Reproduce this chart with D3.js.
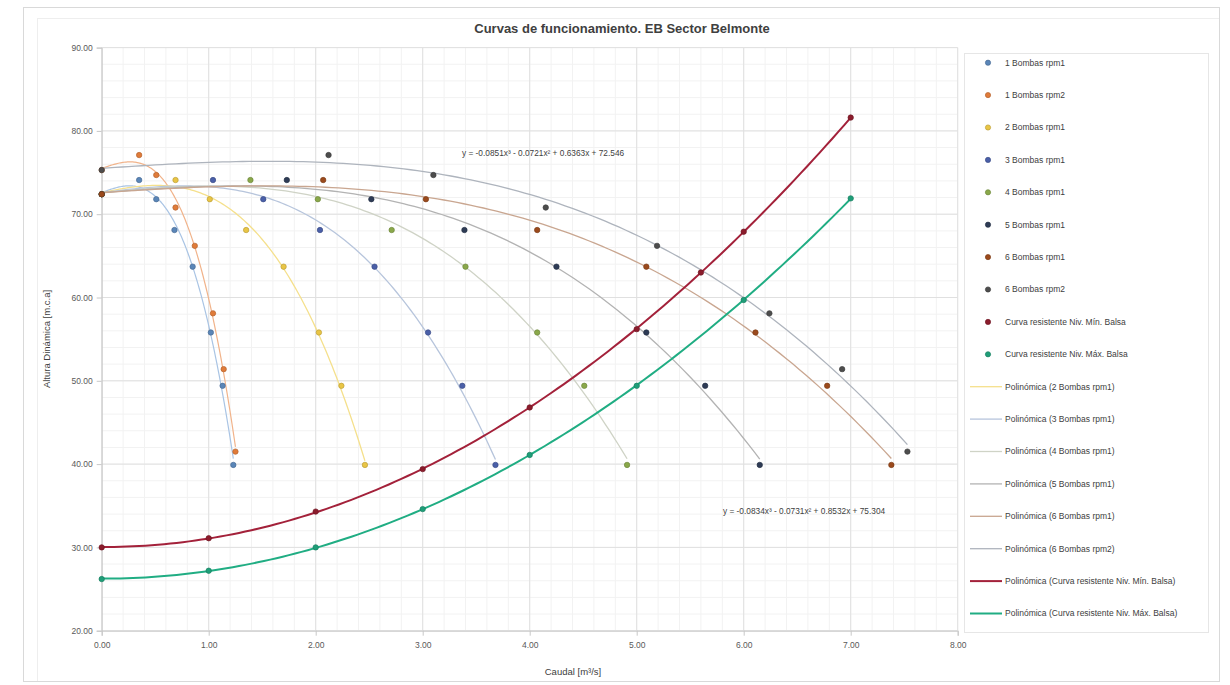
<!DOCTYPE html>
<html><head><meta charset="utf-8">
<script src="https://cdn.jsdelivr.net/npm/d3@7"></script>
<style>
body{margin:0;background:#fff;}
svg{display:block;font-family:"Liberation Sans",Arial,sans-serif;}
</style>
</head><body>
<svg id="c" width="1230" height="685"></svg>
<script>
// ---------- data ----------
const chartTitle = "Curvas de funcionamiento. EB Sector Belmonte";
const xLabel = "Caudal [m³/s]";
const yLabel = "Altura Dinámica [m.c.a]";
const xTicks = [0,1,2,3,4,5,6,7,8];
const yTicks = [20,30,40,50,60,70,80,90];
const eqUpper = "y = -0.0851x³ - 0.0721x² + 0.6363x + 72.546";
const eqLower = "y = -0.0834x³ - 0.0731x² + 0.8532x + 75.304";

const rpm1Heads = [72.4, 74.1, 71.8, 68.1, 63.7, 55.8, 49.4, 39.9];
const q1rpm1 = [0, 0.35, 0.51, 0.68, 0.85, 1.02, 1.13, 1.23];
const q2rpm1 = [0, 0.69, 1.01, 1.35, 1.70, 2.03, 2.24, 2.46];
const q3rpm1 = [0, 1.04, 1.51, 2.04, 2.55, 3.05, 3.37, 3.68];
const q4rpm1 = [0, 1.39, 2.02, 2.71, 3.40, 4.07, 4.51, 4.91];
const q5rpm1 = [0, 1.73, 2.52, 3.39, 4.25, 5.09, 5.64, 6.15];
const q6rpm1 = [0, 2.07, 3.03, 4.07, 5.09, 6.11, 6.78, 7.38];

const rpm2Heads = [75.3, 77.1, 74.7, 70.8, 66.2, 58.1, 51.4, 41.5];
const q1rpm2 = [0, 0.35, 0.51, 0.69, 0.87, 1.04, 1.14, 1.25];
const q6rpm2 = [0, 2.12, 3.10, 4.15, 5.19, 6.24, 6.92, 7.53];

const qMin = [0, 1, 2, 3, 4, 5, 5.6, 6, 7];
const hMin = [30.0, 31.1, 34.3, 39.4, 46.8, 56.2, 63.0, 67.9, 81.6];
const qMax = [0, 1, 2, 3, 4, 5, 6, 7];
const hMax = [26.2, 27.2, 30.0, 34.6, 41.1, 49.4, 59.7, 71.9];

const seriesNames = ["1 Bombas rpm1","1 Bombas rpm2","2 Bombas rpm1","3 Bombas rpm1","4 Bombas rpm1",
  "5 Bombas rpm1","6 Bombas rpm1","6 Bombas rpm2","Curva resistente Niv. Mín. Balsa","Curva resistente Niv. Máx. Balsa"];
const trendNames = ["Polinómica (2 Bombas rpm1)","Polinómica (3 Bombas rpm1)","Polinómica (4 Bombas rpm1)",
  "Polinómica (5 Bombas rpm1)","Polinómica (6 Bombas rpm1)","Polinómica (6 Bombas rpm2)",
  "Polinómica (Curva resistente Niv. Mín. Balsa)","Polinómica (Curva resistente Niv. Máx. Balsa)"];

// ---------- styles ----------
const markerColors = ["#5a86b8","#e07b39","#e9c545","#4a5fa8","#8aa84a","#2e3b55","#9b4a1c","#4d4d4d","#8b1c2c","#1f9e78"];
const lineColors  = ["#a9c4e4","#f1b38a","#f5e08c","#b7c5dc","#cfd3c6","#b3b3b3","#c9a690","#aeb4bd","#a3213a","#20ad83"];
const lineWidths  = [1.2,1.2,1.3,1.3,1.3,1.3,1.3,1.3,2,2];
const fitDegree   = [3,3,3,3,3,3,3,3,2,2];

const series = [
  {x:q1rpm1, y:rpm1Heads}, {x:q1rpm2, y:rpm2Heads}, {x:q2rpm1, y:rpm1Heads},
  {x:q3rpm1, y:rpm1Heads}, {x:q4rpm1, y:rpm1Heads}, {x:q5rpm1, y:rpm1Heads},
  {x:q6rpm1, y:rpm1Heads}, {x:q6rpm2, y:rpm2Heads}, {x:qMin, y:hMin}, {x:qMax, y:hMax}
].map((s,i)=>({name:seriesNames[i], pts:s.x.map((v,j)=>[v,s.y[j]]), mc:markerColors[i], lc:lineColors[i], lw:lineWidths[i], deg:fitDegree[i]}));

// ---------- helpers ----------
function polyfit(pts, deg){
  const n = deg+1;
  const A = Array.from({length:n},()=>new Array(n).fill(0));
  const b = new Array(n).fill(0);
  pts.forEach(([x,y])=>{
    for(let r=0;r<n;r++){
      for(let c=0;c<n;c++) A[r][c]+=Math.pow(x,r+c);
      b[r]+=y*Math.pow(x,r);
    }
  });
  for(let i=0;i<n;i++){
    let p=i; for(let k=i+1;k<n;k++) if(Math.abs(A[k][i])>Math.abs(A[p][i])) p=k;
    [A[i],A[p]]=[A[p],A[i]]; [b[i],b[p]]=[b[p],b[i]];
    for(let k=i+1;k<n;k++){ const f=A[k][i]/A[i][i]; for(let c=i;c<n;c++) A[k][c]-=f*A[i][c]; b[k]-=f*b[i]; }
  }
  const coef=new Array(n).fill(0);
  for(let i=n-1;i>=0;i--){ let s=b[i]; for(let c=i+1;c<n;c++) s-=A[i][c]*coef[c]; coef[i]=s/A[i][i]; }
  return x=>coef.reduce((acc,c,k)=>acc+c*Math.pow(x,k),0);
}

// ---------- layout ----------
const svg = d3.select("#c");
const X0=101.7, X1=957.7, Y0=630.7, Y1=47.6;
const x = d3.scaleLinear().domain([0,8]).range([X0,X1]);
const y = d3.scaleLinear().domain([20,90]).range([Y0,Y1]);

// outer frames
svg.append("rect").attr("x",23.5).attr("y",7.5).attr("width",1196).attr("height",674)
  .attr("fill","#fff").attr("stroke","#d9d9d9");
svg.append("line").attr("x1",37.5).attr("x2",37.5).attr("y1",18).attr("y2",681).attr("stroke","#eeeeee");
svg.append("line").attr("x1",37.5).attr("x2",1219).attr("y1",18.5).attr("y2",18.5).attr("stroke","#eeeeee");

// minor grid
const g = svg.append("g");
g.selectAll(".vmin").data(x.ticks(40)).join("line")
  .attr("x1",d=>x(d)).attr("x2",d=>x(d)).attr("y1",Y0).attr("y2",Y1)
  .attr("stroke","#f2f2f2").attr("stroke-width",1);
g.selectAll(".hmin").data(y.ticks(35)).join("line")
  .attr("y1",d=>y(d)).attr("y2",d=>y(d)).attr("x1",X0).attr("x2",X1)
  .attr("stroke","#f2f2f2").attr("stroke-width",1);
// major grid
g.selectAll(".vmaj").data(xTicks).join("line")
  .attr("x1",d=>x(d)).attr("x2",d=>x(d)).attr("y1",Y0).attr("y2",Y1)
  .attr("stroke","#e0e0e0").attr("stroke-width",1);
g.selectAll(".hmaj").data(yTicks).join("line")
  .attr("y1",d=>y(d)).attr("y2",d=>y(d)).attr("x1",X0).attr("x2",X1)
  .attr("stroke","#e0e0e0").attr("stroke-width",1);

// axes
const fmt = d3.format(".2f");
const ax = svg.append("g").attr("transform",`translate(0,${Y0})`)
  .call(d3.axisBottom(x).tickValues(xTicks).tickFormat(fmt).tickSize(5).tickPadding(6));
const ay = svg.append("g").attr("transform",`translate(${X0},0)`)
  .call(d3.axisLeft(y).tickValues(yTicks).tickFormat(fmt).tickSize(5).tickPadding(4));
[ax,ay].forEach(a=>{
  a.select(".domain").attr("stroke","#c8c8c8");
  a.selectAll(".tick line").attr("stroke","#c8c8c8");
  a.selectAll(".tick text").attr("fill","#595959").attr("font-size",8.5).attr("font-family","Liberation Sans, Arial, sans-serif");
});

// trendlines
const lineGen = d3.line().x(d=>x(d[0])).y(d=>y(d[1]));
const plot = svg.append("g");
series.forEach(s=>{
  const f = polyfit(s.pts, s.deg);
  const xs = s.pts.map(p=>p[0]);
  const lo = d3.min(xs), hi = d3.max(xs);
  const samples = d3.range(0,121).map(i=>{const xv=lo+(hi-lo)*i/120; return [xv,f(xv)];});
  plot.append("path").attr("d",lineGen(samples)).attr("fill","none")
    .attr("stroke",s.lc).attr("stroke-width",s.lw);
});
// markers
series.forEach(s=>{
  plot.selectAll(null).data(s.pts).join("circle")
    .attr("cx",d=>x(d[0])).attr("cy",d=>y(d[1])).attr("r",2.7)
    .attr("fill",s.mc).attr("stroke",d3.color(s.mc).darker(0.6)).attr("stroke-width",0.7);
});

// equations
svg.append("text").attr("x",462).attr("y",156).attr("font-size",8.3).attr("fill","#404040").text(eqUpper);
svg.append("text").attr("x",723).attr("y",514).attr("font-size",8.3).attr("fill","#404040").text(eqLower);

// title & axis labels
svg.append("text").attr("x",622).attr("y",33).attr("text-anchor","middle")
  .attr("font-size",13).attr("font-weight","bold").attr("fill","#404040").text(chartTitle);
svg.append("text").attr("x",573).attr("y",675).attr("text-anchor","middle")
  .attr("font-size",9.5).attr("fill","#404040").text(xLabel);
svg.append("text").attr("transform","translate(50,339) rotate(-90)").attr("text-anchor","middle")
  .attr("font-size",9.5).attr("fill","#404040").text(yLabel);

// legend
svg.append("rect").attr("x",964.5).attr("y",53.5).attr("width",244).attr("height",579)
  .attr("fill","#fff").attr("stroke","#e6e6e6");
const LY0 = 62.7, LDY = 32.4;
const leg = svg.append("g").attr("font-size",8.5).attr("fill","#404040");
series.forEach((s,i)=>{
  const yy = LY0 + i*LDY;
  leg.append("circle").attr("cx",988).attr("cy",yy).attr("r",2.6)
    .attr("fill",s.mc).attr("stroke",d3.color(s.mc).darker(0.6)).attr("stroke-width",0.7);
  leg.append("text").attr("x",1005).attr("y",yy).attr("dy","0.35em").text(s.name);
});
trendNames.forEach((t,k)=>{
  const s = series[k+2];
  const yy = LY0 + (k+10)*LDY;
  leg.append("line").attr("x1",970).attr("x2",1002).attr("y1",yy).attr("y2",yy)
    .attr("stroke",s.lc).attr("stroke-width",s.lw);
  leg.append("text").attr("x",1005).attr("y",yy).attr("dy","0.35em").text(t);
});
</script>
</body></html>
